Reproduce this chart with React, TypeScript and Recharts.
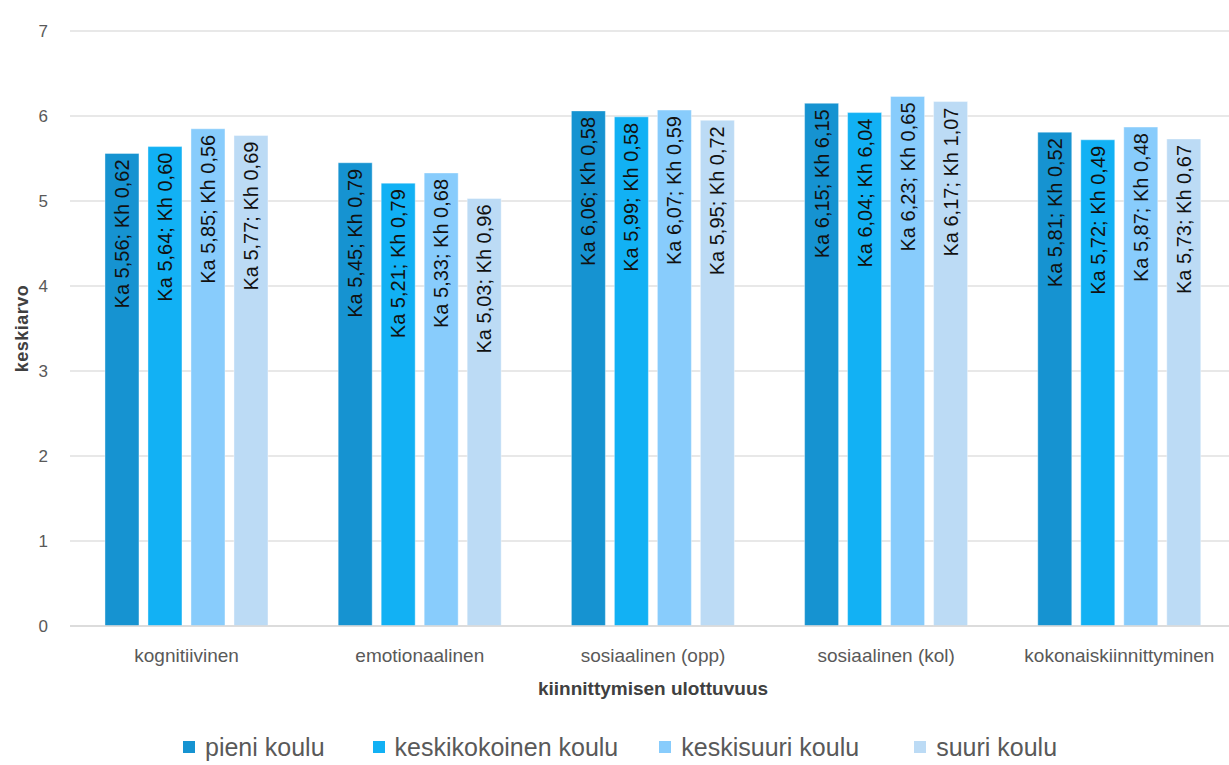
import { BarChart, Bar, XAxis, YAxis, CartesianGrid, Legend, LabelList } from 'recharts';

const categories = ['kognitiivinen', 'emotionaalinen', 'sosiaalinen (opp)', 'sosiaalinen (kol)', 'kokonaiskiinnittyminen'];

const schools = ['pieni koulu', 'keskikokoinen koulu', 'keskisuuri koulu', 'suuri koulu'];
const colors = ['#1693D1', '#12B1F4', '#88CCFC', '#BCDBF5'];

// keskiarvo (Ka) per school
const kaPieni = [5.56, 5.45, 6.06, 6.15, 5.81];
const kaKeskikokoinen = [5.64, 5.21, 5.99, 6.04, 5.72];
const kaKeskisuuri = [5.85, 5.33, 6.07, 6.23, 5.87];
const kaSuuri = [5.77, 5.03, 5.95, 6.17, 5.73];

// keskihajonta (Kh) per school
const khPieni = [0.62, 0.79, 0.58, 6.15, 0.52];
const khKeskikokoinen = [0.60, 0.79, 0.58, 6.04, 0.49];
const khKeskisuuri = [0.56, 0.68, 0.59, 0.65, 0.48];
const khSuuri = [0.69, 0.96, 0.72, 1.07, 0.67];

const yTicks = [0, 1, 2, 3, 4, 5, 6, 7];

const kaAll = [kaPieni, kaKeskikokoinen, kaKeskisuuri, kaSuuri];
const khAll = [khPieni, khKeskikokoinen, khKeskisuuri, khSuuri];

const data = categories.map((name, i) => {
  const row: Record<string, string | number> = { name };
  schools.forEach((s, j) => {
    row['s' + j] = kaAll[j][i];
    row['kh' + j] = khAll[j][i];
  });
  return row;
});

const fmt = (v: number) => v.toFixed(2).replace('.', ',');

const makeLabel = (j: number) => (props: any) => {
  const { x, y, width, index } = props;
  const cx = x + width / 2;
  const ty = y + 6;
  const text = `Ka ${fmt(kaAll[j][index])}; Kh ${fmt(khAll[j][index])}`;
  return (
    <text
      x={cx}
      y={ty}
      transform={`rotate(-90, ${cx}, ${ty})`}
      textAnchor="end"
      dominantBaseline="central"
      fontSize={20}
      fill="#111"
      fontFamily="Liberation Sans, Arial, sans-serif"
    >
      {text}
    </text>
  );
};

const YTitle = (props: any) => {
  const { viewBox } = props;
  const cy = viewBox.y + viewBox.height / 2;
  return (
    <text x={22} y={cy} transform={`rotate(-90, 22, ${cy})`} textAnchor="middle" dominantBaseline="central"
      fontSize={18} fontWeight="bold" fill="#404040" letterSpacing={0.5}>
      keskiarvo
    </text>
  );
};

const XTitle = (props: any) => {
  const { viewBox } = props;
  const cx = viewBox.x + viewBox.width / 2;
  return (
    <text x={cx} y={688} textAnchor="middle" dominantBaseline="central" fontSize={19} fontWeight="bold" fill="#404040">
      kiinnittymisen ulottuvuus
    </text>
  );
};

const LegendContent = () => (
  <div style={{ display: 'flex', alignItems: 'center', paddingLeft: 183, fontSize: 25, color: '#595959' }}>
    {schools.map((s, j) => (
      <div key={s} style={{ display: 'flex', alignItems: 'center', marginRight: j === 0 ? 48 : j === 1 ? 41 : 55 }}>
        <span style={{ display: 'inline-block', width: 12, height: 12, background: colors[j], marginRight: 10 }} />
        <span style={{ lineHeight: '26px' }}>{s}</span>
      </div>
    ))}
  </div>
);

const App = () => {
  return (
    <div style={{ position: 'absolute', left: 0, top: 0, width: 1229, height: 765, overflow: 'hidden', background: '#fff', fontFamily: 'Liberation Sans, Arial, sans-serif' }}>
      <BarChart width={1236} height={765} data={data} margin={{ top: 31, right: 0, left: 0, bottom: 73 }}
        barCategoryGap="15%" barGap={9}>
        <CartesianGrid vertical={false} stroke="#e0e0e0" strokeWidth={1.5} />
        <XAxis dataKey="name" interval={0} tickLine={false} axisLine={{ stroke: '#d9d9d9', strokeWidth: 1.5 }}
          tick={{ fontSize: 19, fill: '#595959' }} tickMargin={17} height={40} label={<XTitle />} />
        <YAxis domain={[0, 7]} ticks={yTicks} width={70} axisLine={false} tickLine={false} tickMargin={16}
          tick={{ fontSize: 17, fill: '#595959' }} label={<YTitle />} />
        <Legend verticalAlign="bottom" wrapperStyle={{ position: 'absolute', top: 734, left: 0, width: 1229 }} content={<LegendContent />} />
        {schools.map((s, j) => (
          <Bar key={s} dataKey={'s' + j} name={s} fill={colors[j]} stroke="#ffffff" strokeOpacity={0.4} isAnimationActive={false}>
            <LabelList dataKey={'s' + j} content={makeLabel(j)} />
          </Bar>
        ))}
      </BarChart>
    </div>
  );
};

export default App;
